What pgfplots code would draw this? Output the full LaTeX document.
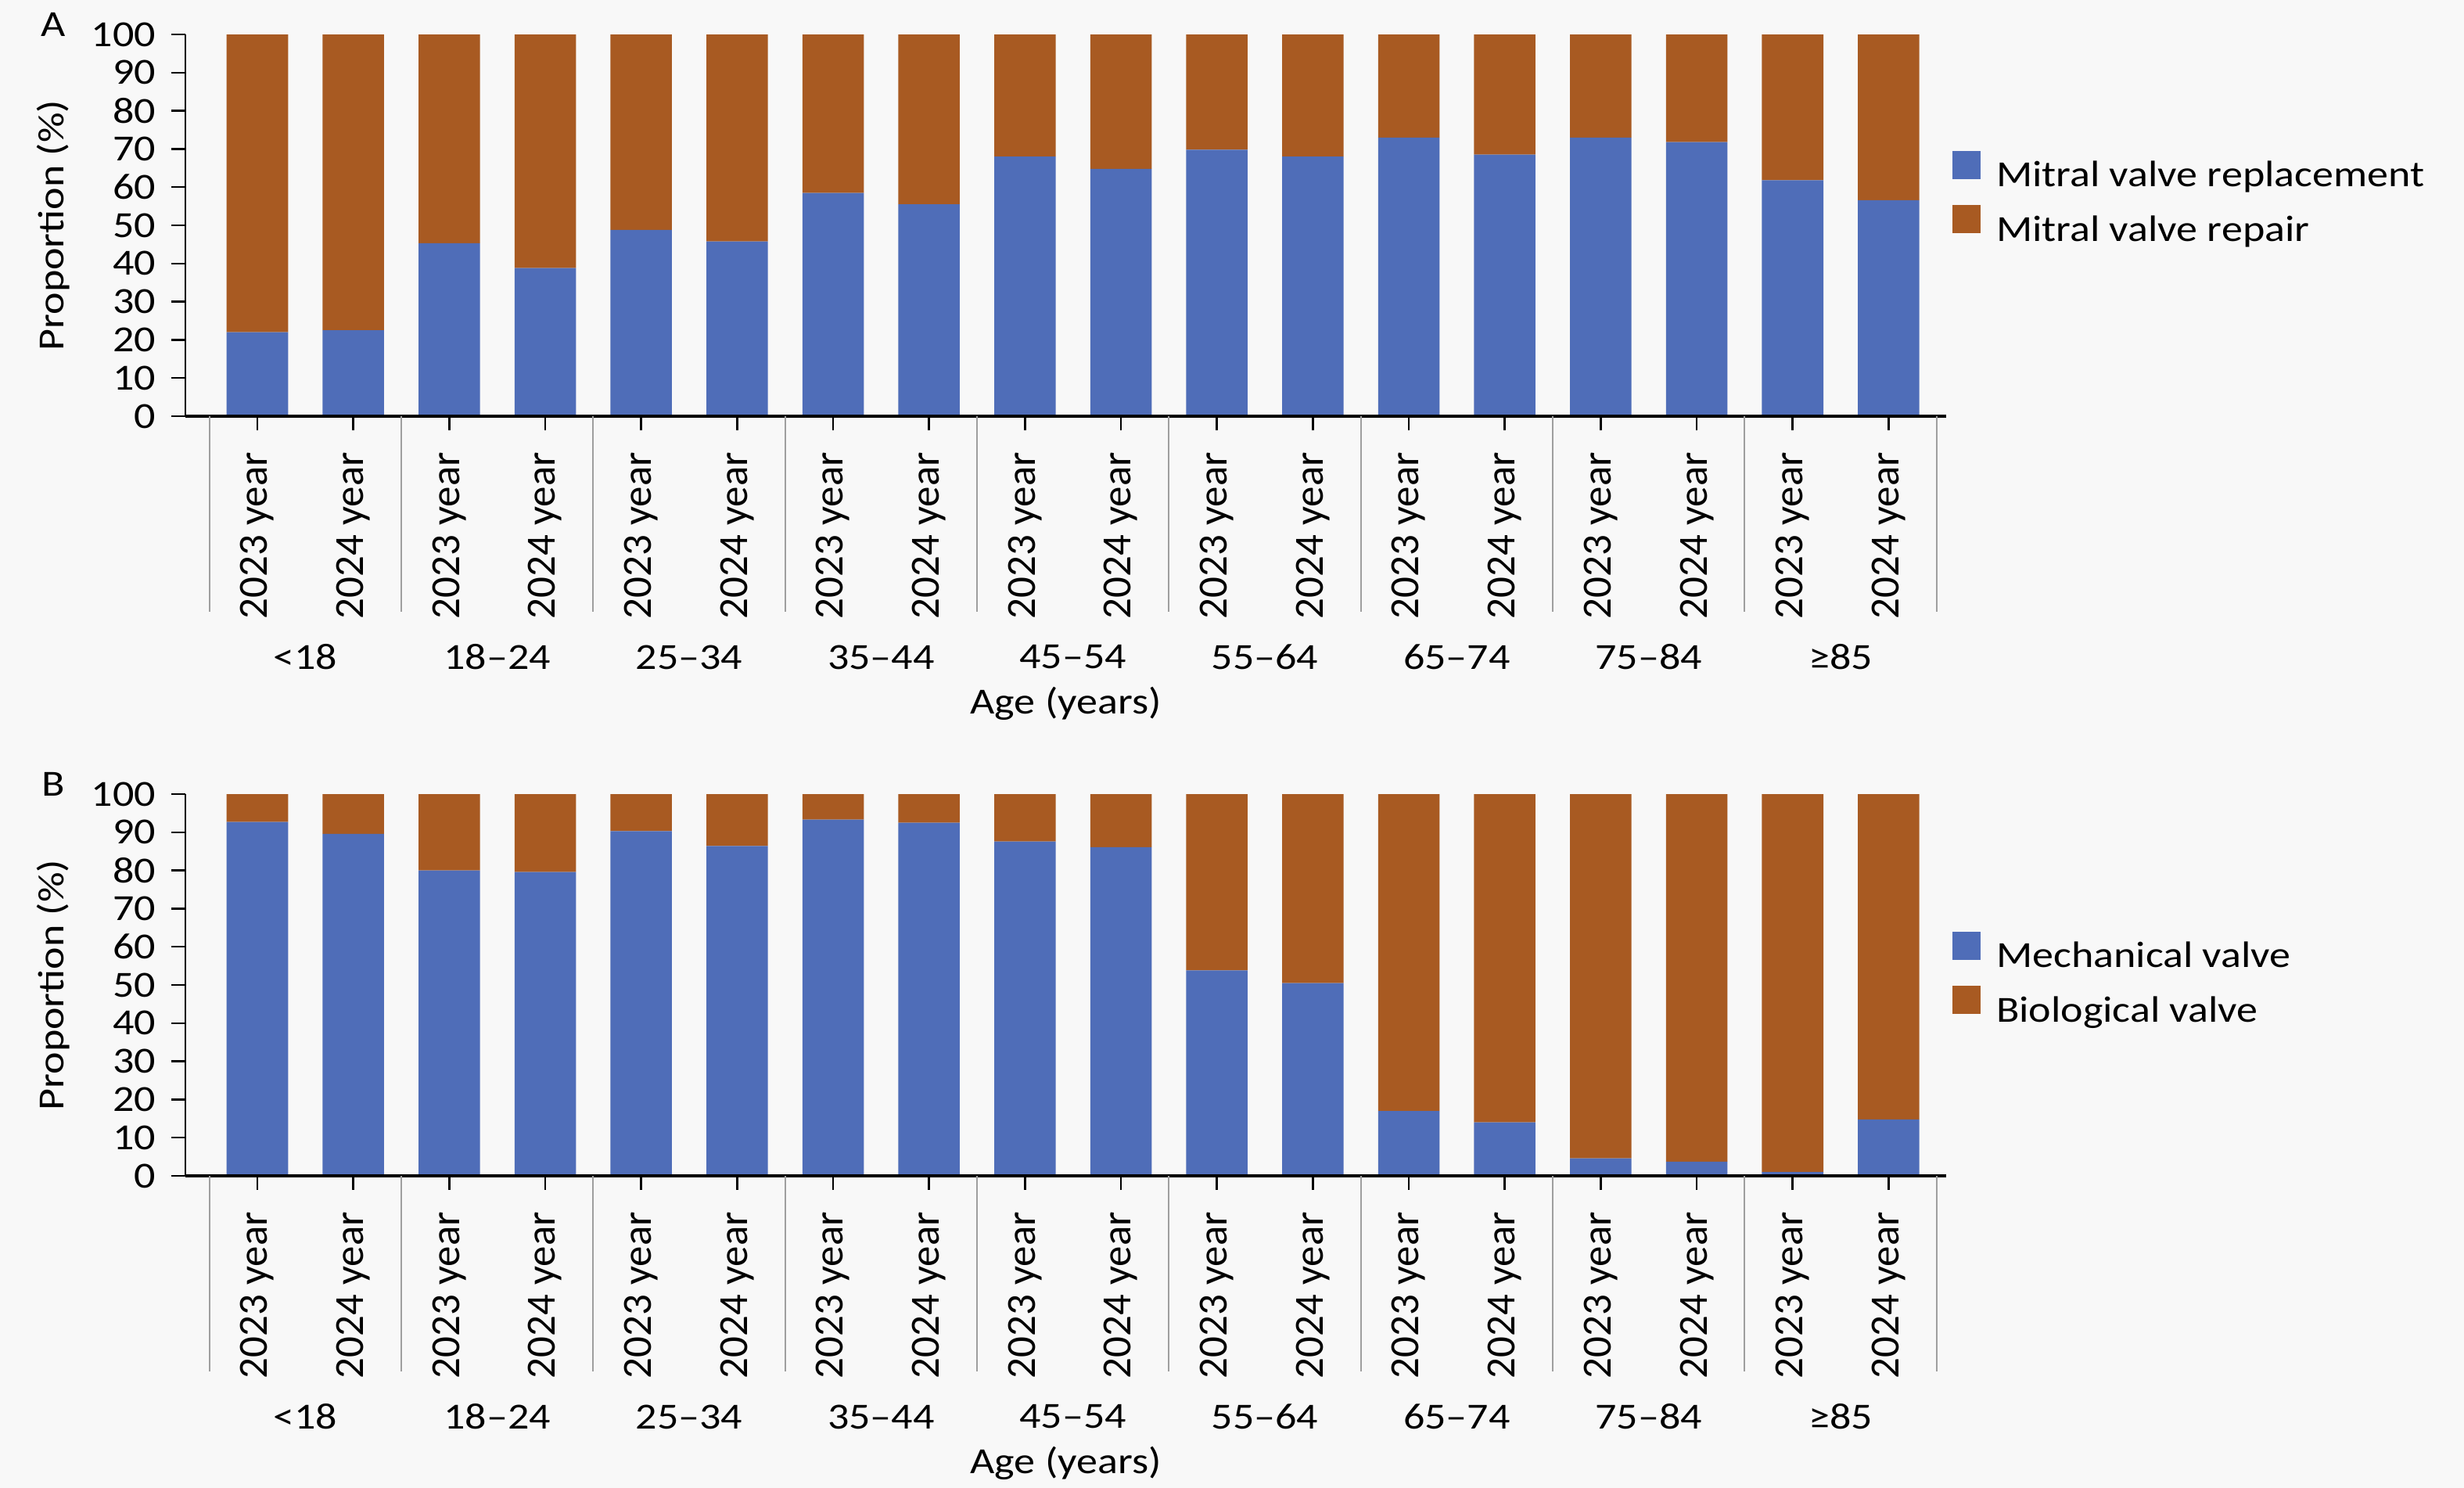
\documentclass[border=0pt]{standalone}
\usepackage{fontspec}
\setmainfont[FakeStretch=1.15]{Carlito}
\newfontfamily\rotfont{Carlito}
\usepackage{pgfplots}
\pgfplotsset{compat=1.18}
\usepackage{pgfplotstable}
\definecolor{cblue}{RGB}{79,109,184}
\definecolor{cbrown}{RGB}{168,90,34}
\definecolor{bg}{RGB}{248,248,248}

\pgfplotstableread{
x a b
0 22.0 78.0
1 22.5 77.5
2 45.3 54.7
3 38.8 61.2
4 48.8 51.2
5 45.8 54.2
6 58.5 41.5
7 55.5 44.5
8 68.0 32.0
9 64.8 35.2
10 69.8 30.2
11 68.0 32.0
12 73.0 27.0
13 68.5 31.5
14 73.0 27.0
15 71.8 28.2
16 61.8 38.2
17 56.6 43.4
}\dataA

\pgfplotstableread{
x a b
0 92.7 7.3
1 89.6 10.4
2 80.0 20.0
3 79.6 20.4
4 90.3 9.7
5 86.4 13.6
6 93.3 6.7
7 92.5 7.5
8 87.6 12.4
9 86.1 13.9
10 53.8 46.2
11 50.5 49.5
12 17.0 83.0
13 14.0 86.0
14 4.6 95.4
15 3.7 96.3
16 1.0 99.0
17 14.8 85.2
}\dataB

\newcommand{\mainfs}{\fontsize{9.4bp}{11bp}\selectfont}
\tikzset{lab/.style={font=\mainfs, inner sep=0pt}}

\pgfplotsset{
 panel/.style={
  scale only axis, width=450.2bp, height=97.6bp,
  xmin=-0.75, xmax=17.6, ymin=0, ymax=100,
  ybar stacked, bar width=0.64,
  clip=false, axis on top,
  separate axis lines,
  axis x line*=bottom, axis y line*=left,
  x axis line style={line width=0.7bp},
  y axis line style={line width=0.5bp},
  tick align=outside, xtick pos=left, ytick pos=left,
  major tick length=3.6bp,
  tick style={black, line width=0.5bp},
  ytick={0,10,...,100},
  yticklabel={\pgfmathprintnumber{\tick}\hspace*{3.8bp}},
  xtick={0,...,17},
  xticklabels={2023 year,2024 year,2023 year,2024 year,2023 year,2024 year,2023 year,2024 year,2023 year,2024 year,2023 year,2024 year,2023 year,2024 year,2023 year,2024 year,2023 year,2024 year},
  xticklabel style={yshift=-5.4bp, rotate=90, anchor=east, inner sep=0pt, font=\rotfont\fontsize{10.6bp}{12bp}\selectfont},
  yticklabel style={font=\mainfs, inner sep=0pt},
  /pgf/number format/assume math mode=true,
  extra x ticks={-0.5,1.5,3.5,5.5,7.5,9.5,11.5,13.5,15.5,17.5},
  extra x tick labels={},
  extra x tick style={major tick length=50bp, tick style={color=gray!75, line width=0.4bp}},
  legend cell align=left,
  legend image code/.code={\fill[##1, draw=none] (0bp,-0.5bp) rectangle (7.2bp,6.7bp);},
  legend style={anchor=west, xshift=1.6bp, draw=none, fill=none, inner sep=0pt, outer sep=0pt,
    font=\mainfs, row sep=3.2bp, column sep=4bp, nodes={inner sep=0pt}},
 }
}

\newcommand{\grouplabels}{%
 \node[lab, yshift=-61.6bp] at (axis cs:0.5,0) {<18};
 \node[lab, yshift=-61.6bp] at (axis cs:2.5,0) {18–24};
 \node[lab, yshift=-61.6bp] at (axis cs:4.5,0) {25–34};
 \node[lab, yshift=-61.6bp] at (axis cs:6.5,0) {35–44};
 \node[lab, yshift=-61.6bp] at (axis cs:8.5,0) {45–54};
 \node[lab, yshift=-61.6bp] at (axis cs:10.5,0) {55–64};
 \node[lab, yshift=-61.6bp] at (axis cs:12.5,0) {65–74};
 \node[lab, yshift=-61.6bp] at (axis cs:14.5,0) {75–84};
 \node[lab, yshift=-61.6bp] at (axis cs:16.5,0) {≥85};
 \node[lab, yshift=-73.4bp] at (axis description cs:0.5,0) {Age (years)};
 \node[lab, xshift=-33.8bp, rotate=90] at (axis description cs:0,0.5) {Proportion (\%)};
}

\begin{document}
\begin{tikzpicture}
\path[use as bounding box, fill=bg] (0,0) rectangle (630bp,-380.4bp);
\node[lab] at (13.6bp,-6.2bp) {A};
\node[lab] at (13.6bp,-200.4bp) {B};

\begin{axis}[panel, at={(47.4bp,-106.4bp)}, anchor=south west,
  legend style={at={(1,0.569)}}]
\addplot[fill=cblue, draw=none] table[x=x, y=a] {\dataA};
\addplot[fill=cbrown, draw=none] table[x=x, y=b] {\dataA};
\legend{Mitral valve replacement, Mitral valve repair}
\grouplabels
\end{axis}

\begin{axis}[panel, at={(47.4bp,-300.6bp)}, anchor=south west,
  legend style={at={(1,0.514)}}]
\addplot[fill=cblue, draw=none] table[x=x, y=a] {\dataB};
\addplot[fill=cbrown, draw=none] table[x=x, y=b] {\dataB};
\legend{Mechanical valve, Biological valve}
\grouplabels
\end{axis}
\end{tikzpicture}
\end{document}
